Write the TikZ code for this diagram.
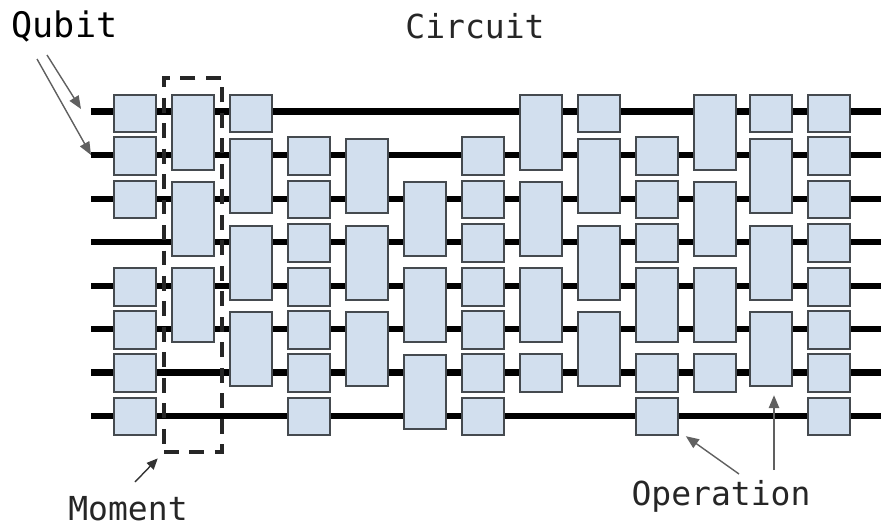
\documentclass[tikz,border=0pt]{standalone}
\usepackage{fontspec}
\setmonofont{DejaVu Sans Mono}
\usetikzlibrary{arrows.meta}
\definecolor{boxfill}{HTML}{D2DFEE}
\definecolor{boxedge}{HTML}{454A4F}
\definecolor{pointer}{HTML}{606060}
\tikzset{
	wire/.style={black, line width=3.8pt},
	singlebox/.style={draw=boxedge, fill=boxfill, line width=1.2pt, minimum width=0.83cm, minimum height=0.75cm, inner sep=0pt},
	pairbox/.style={singlebox, minimum height=1.49cm},
	momentbox/.style={draw=black!85, line width=2pt, dash pattern=on 8.5pt off 6pt, minimum width=1.16cm, minimum height=7.48cm, inner sep=0pt},
	arrowline/.style={draw=pointer, line width=0.8pt, -{Triangle[length=2.6mm,width=2.1mm,fill=pointer]}},
	caption/.style={anchor=base, inner sep=0pt, text=black!85, font=\ttfamily\fontsize{18.8pt}{22pt}\selectfont}
}
\begin{document}
\begin{tikzpicture}[x=0.02cm, y=0.02cm]
	\useasboundingbox (0,0) rectangle (881,-524);
	% qubit wires
	\foreach \i/\y in {1/111.5,2/155,3/199,4/242,5/286,6/329,7/372.5,8/416} {
		\coordinate (wirestart\i) at (91,-\y);
		\coordinate (wireend\i) at (881,-\y);
		\draw [wire] (wirestart\i) -- (wireend\i);
	}
	% columns and rows
	\foreach \c/\x in {1/135,2/193,3/251,4/309,5/367,6/425,7/483,8/541,9/599,10/657,11/715,12/771,13/829}
		\coordinate (col\c) at (\x,0);
	\foreach \r/\y in {1/113.5,2/156,3/199.5,4/243,5/287,6/330,7/373,8/416.5}
		\coordinate (row\r) at (0,-\y);
	\foreach \r/\y in {1/132.5,2/176,3/219,4/263,5/305,6/349,7/392}
		\coordinate (pair\r) at (0,-\y);
	\node [momentbox] (moment) at (193,-265) {};
	% one qubit operations
	\foreach \c/\rows in {1/{1,2,3,5,6,7,8},3/{1},4/{2,3,4,5,6,7,8},7/{2,3,4,5,6,7,8},8/{7},9/{1},10/{2,3,4,7,8},11/{7},12/{1},13/{1,2,3,4,5,6,7,8}}
		\foreach \r in \rows
			\node [singlebox] (s\c-\r) at (col\c |- row\r) {};
	% two qubit operations
	\foreach \c/\rows in {2/{1,3,5},3/{2,4,6},5/{2,4,6},6/{3,5,7},8/{1,3,5},9/{2,4,6},10/{5},11/{1,3,5},12/{2,4,6}}
		\foreach \r in \rows
			\node [pairbox] (d\c-\r) at (col\c |- pair\r) {};
	% labels
	\node [caption, font=\ttfamily\fontsize{20pt}{22pt}\selectfont, text=black] (qubit) at (64.5,-37) {Qubit};
	\node [caption] (circuit) at (475,-38) {Circuit};
	\node [caption] (momentlabel) at (128,-520) {Moment};
	\node [caption] (operation) at (721,-505.5) {Operation};
	% arrows
	\coordinate (qubitfrom1) at (47,-55);
	\coordinate (qubitto1) at (81,-109);
	\coordinate (qubitfrom2) at (37,-59);
	\coordinate (momentfrom) at (135,-482);
	\coordinate (opfrom1) at (739,-474);
	\coordinate (opfrom2) at (774,-470);
	\draw [arrowline] (qubitfrom1) -- (qubitto1);
	\draw [arrowline] (qubitfrom2) -- (wirestart2);
	\draw [arrowline, draw=black!80, -{Triangle[length=2.2mm,width=1.9mm,fill=black!80]}, shorten >=3.7pt] (momentfrom) -- (moment.south west);
	\draw [arrowline, shorten >=4.9pt] (opfrom1) -- (s10-8.-34);
	\draw [arrowline, shorten >=4.5pt] (opfrom2) -- (opfrom2 |- d12-6.south);
\end{tikzpicture}
\end{document}
